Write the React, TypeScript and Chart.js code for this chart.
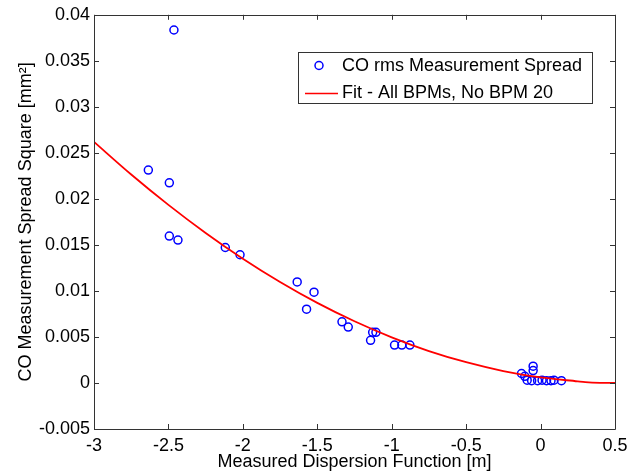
import React, { useEffect, useRef } from 'react';
import { Chart, registerables } from 'chart.js';

Chart.register(...registerables);

// Measured points: dispersion [m] vs CO rms spread square [mm^2]
const spreadX = [
  -2.463, -2.635, -2.494, -2.494, -2.436, -2.118, -2.019,
  -1.635, -1.522, -1.572, -1.334, -1.292, -1.128, -1.106, -1.142,
  -0.981, -0.932, -0.878,
  -0.128, -0.106, -0.09, -0.06, -0.05, -0.05, -0.02, 0.01, 0.04, 0.07, 0.09, 0.14,
];
const spreadY = [
  0.03835, 0.02313, 0.02175, 0.01596, 0.01552, 0.01472, 0.01393,
  0.01098, 0.00986, 0.00802, 0.00665, 0.00607, 0.0055, 0.0055, 0.00463,
  0.00412, 0.00412, 0.00412,
  0.00103, 0.00072, 0.0003, 0.00025, 0.00182, 0.00135, 0.00025, 0.0003, 0.00025, 0.00025, 0.0003, 0.00025,
];

// Fit curve
const fitX = [-3, -2.75, -2.5, -2.25, -2, -1.75, -1.5, -1.25, -1, -0.75, -0.5, -0.25, 0, 0.25, 0.3, 0.4, 0.5];
const fitY = [0.0262, 0.02265, 0.01935, 0.0163, 0.0135, 0.01097, 0.0087, 0.0067, 0.00496, 0.00347, 0.00226, 0.0013, 0.0006, 0.00018, 0.0001, 0.00002, 0];

const xTickValues = [-3, -2.5, -2, -1.5, -1, -0.5, 0, 0.5];
const yTickValues = [-0.005, 0, 0.005, 0.01, 0.015, 0.02, 0.025, 0.03, 0.035, 0.04];

const seriesNames = ['CO rms Measurement Spread', 'Fit - All BPMs, No BPM 20'];
const xTitle = 'Measured Dispersion Function [m]';
const yTitle = 'CO Measurement Spread Square [mm\u00B2]';

const FONT = '"Liberation Sans", Arial, Helvetica, sans-serif';
const AXIS_COLOR = '#333333';
const BLUE = '#0000ff';
const RED = '#ff0000';

const boxTicksPlugin = {
  id: 'boxTicks',
  afterDraw(chart: any) {
    const { ctx, chartArea } = chart;
    const { left, right, top, bottom } = chartArea;
    const xs = chart.scales.x;
    const ys = chart.scales.y;
    const tl = 5;
    ctx.save();
    ctx.strokeStyle = AXIS_COLOR;
    ctx.lineWidth = 1;
    ctx.beginPath();
    ctx.rect(Math.round(left) + 0.5, Math.round(top) + 0.5, Math.round(right - left), Math.round(bottom - top));
    ctx.stroke();
    ctx.beginPath();
    xs.ticks.forEach((t: any) => {
      const px = Math.round(xs.getPixelForValue(t.value)) + 0.5;
      ctx.moveTo(px, bottom);
      ctx.lineTo(px, bottom - tl);
      ctx.moveTo(px, top);
      ctx.lineTo(px, top + tl);
    });
    ys.ticks.forEach((t: any) => {
      const py = Math.round(ys.getPixelForValue(t.value)) + 0.5;
      ctx.moveTo(left, py);
      ctx.lineTo(left + tl, py);
      ctx.moveTo(right, py);
      ctx.lineTo(right - tl, py);
    });
    ctx.stroke();

    // legend box
    const bx = 298, by = 52, bw = 294, bh = 51;
    ctx.fillStyle = '#ffffff';
    ctx.fillRect(bx, by, bw, bh);
    ctx.strokeStyle = AXIS_COLOR;
    ctx.strokeRect(bx + 0.5, by + 0.5, bw, bh);
    ctx.font = `18px ${FONT}`;
    ctx.textBaseline = 'middle';
    ctx.textAlign = 'left';
    ctx.fillStyle = '#000000';
    // row 1: marker
    ctx.strokeStyle = BLUE;
    ctx.lineWidth = 1.5;
    ctx.beginPath();
    ctx.arc(319, 65.5, 4, 0, Math.PI * 2);
    ctx.stroke();
    ctx.fillText(seriesNames[0], 342, 66);
    // row 2: line
    ctx.strokeStyle = RED;
    ctx.lineWidth = 1.5;
    ctx.beginPath();
    ctx.moveTo(305, 93.5);
    ctx.lineTo(338, 93.5);
    ctx.stroke();
    ctx.fillText(seriesNames[1], 342, 93);
    ctx.restore();
  },
};

export default function App() {
  const ref = useRef<HTMLCanvasElement | null>(null);

  useEffect(() => {
    document.body.style.margin = '0';
    const canvas = ref.current;
    if (!canvas) return;
    const chart = new Chart(canvas, {
      type: 'scatter',
      data: {
        datasets: [
          {
            label: seriesNames[1],
            data: fitX.map((x, i) => ({ x, y: fitY[i] })),
            showLine: true,
            borderColor: RED,
            borderWidth: 1.8,
            pointRadius: 0,
            cubicInterpolationMode: 'monotone',
            fill: false,
          },
          {
            label: seriesNames[0],
            data: spreadX.map((x, i) => ({ x, y: spreadY[i] })),
            showLine: false,
            pointStyle: 'circle',
            pointRadius: 4,
            pointBorderWidth: 1.5,
            pointBorderColor: BLUE,
            pointBackgroundColor: 'rgba(0,0,0,0)',
          },
        ],
      },
      options: {
        responsive: false,
        animation: false,
        layout: { padding: { left: 0, right: 24, top: 13, bottom: 0 } },
        plugins: {
          legend: { display: false },
          tooltip: { enabled: false },
        },
        scales: {
          x: {
            type: 'linear',
            min: -3,
            max: 0.5,
            grid: { display: false, drawTicks: false },
            border: { display: false },
            afterBuildTicks: (s: any) => {
              s.ticks = xTickValues.map((v) => ({ value: v }));
            },
            afterFit: (s: any) => {
              s.height = 44;
            },
            ticks: {
              color: '#000',
              padding: 6,
              font: { family: FONT, size: 18 },
              maxRotation: 0,
              callback: (v: any) => String(+Number(v).toFixed(2)),
            },
            title: {
              display: true,
              text: xTitle,
              color: '#000',
              font: { family: FONT, size: 18 },
              padding: { top: 0, bottom: 0 },
            },
          },
          y: {
            type: 'linear',
            min: -0.005,
            max: 0.04,
            grid: { display: false, drawTicks: false },
            border: { display: false },
            afterBuildTicks: (s: any) => {
              s.ticks = yTickValues.map((v) => ({ value: v }));
            },
            afterFit: (s: any) => {
              s.width = 94;
            },
            ticks: {
              color: '#000',
              padding: 4,
              font: { family: FONT, size: 18 },
              callback: (v: any) => String(+Number(v).toFixed(3)),
            },
            title: {
              display: true,
              text: yTitle,
              color: '#000',
              font: { family: FONT, size: 18 },
              padding: { top: 15, bottom: 0 },
            },
          },
        },
      },
      plugins: [boxTicksPlugin],
    } as any);
    return () => chart.destroy();
  }, []);

  return <canvas ref={ref} width={639} height={473} style={{ display: 'block' }} />;
}
